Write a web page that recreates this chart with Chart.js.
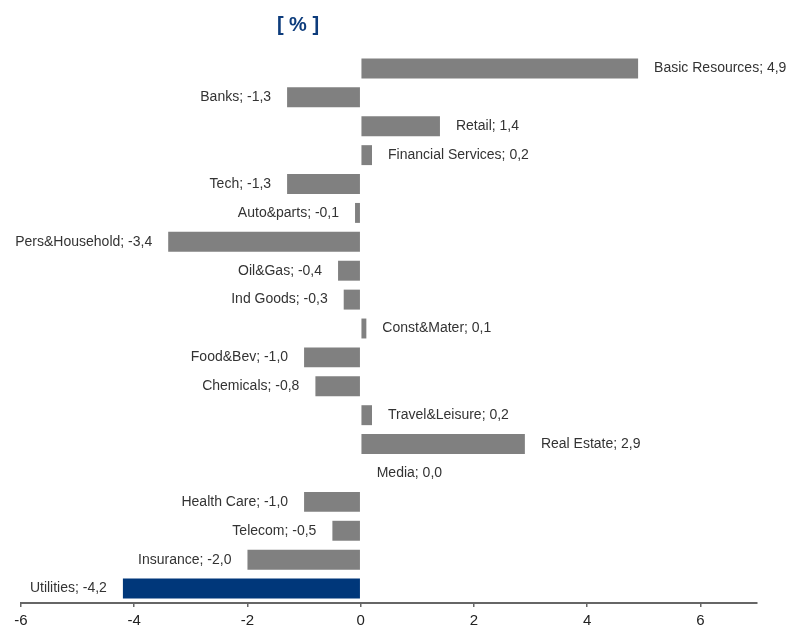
<!DOCTYPE html>
<html>
<head>
<meta charset="utf-8">
<script src="https://cdn.jsdelivr.net/npm/chart.js@4/dist/chart.umd.min.js"></script>
<style>
    html, body { margin: 0; padding: 0; background: #fff; }
    #sectorChart { display: block; }
</style>
</head>
<body>
<canvas id="sectorChart" width="789" height="628"></canvas>
<script>
const sectors = [
    'Basic Resources', 'Banks', 'Retail', 'Financial Services', 'Tech',
    'Auto&parts', 'Pers&Household', 'Oil&Gas', 'Ind Goods', 'Const&Mater',
    'Food&Bev', 'Chemicals', 'Travel&Leisure', 'Real Estate', 'Media',
    'Health Care', 'Telecom', 'Insurance', 'Utilities'
];

const changes = [
    4.9, -1.3, 1.4, 0.2, -1.3,
    -0.1, -3.4, -0.4, -0.3, 0.1,
    -1.0, -0.8, 0.2, 2.9, 0.0,
    -1.0, -0.5, -2.0, -4.2
];

const xTicks = [-6, -4, -2, 0, 2, 4, 6];

const highlighted = 'Utilities';
const grayColor = '#808080';
const blueColor = '#00377a';

function formatValue(v) {
    return v.toFixed(1).replace('.', ',');
}

// draws the title and the "name; value" label next to each bar
const barLabels = {
    id: 'barLabels',
    afterDatasetsDraw(chart) {
        const ctx = chart.ctx;
        const meta = chart.getDatasetMeta(0);
        const xScale = chart.scales.x;
        const zeroX = xScale.getPixelForValue(0);
        ctx.save();
        ctx.font = '14px "Liberation Sans", Arial, sans-serif';
        ctx.fillStyle = '#333333';
        ctx.textBaseline = 'middle';
        meta.data.forEach((bar, i) => {
            const v = changes[i];
            const text = sectors[i] + '; ' + formatValue(v);
            if (v >= 0) {
                ctx.textAlign = 'left';
                ctx.fillText(text, Math.max(bar.x, zeroX) + 16, bar.y);
            } else {
                ctx.textAlign = 'right';
                ctx.fillText(text, bar.x - 16, bar.y);
            }
        });

        ctx.font = 'bold 20px "Liberation Sans", Arial, sans-serif';
        ctx.fillStyle = '#0d3c7c';
        ctx.textAlign = 'center';
        ctx.fillText('[ % ]', 298, 25);
        ctx.restore();
    }
};

const ctx = document.getElementById('sectorChart').getContext('2d');
const sectorChart = new Chart(ctx, {
    type: 'bar',
    data: {
        labels: sectors,
        datasets: [{
            data: changes,
            backgroundColor: sectors.map(s => s === highlighted ? blueColor : grayColor),
            borderWidth: 0,
            barPercentage: 0.69,
            categoryPercentage: 1.0
        }]
    },
    options: {
        indexAxis: 'y',
        responsive: false,
        animation: false,
        layout: {
            padding: { top: 54, left: 21, right: 32, bottom: 0 }
        },
        plugins: {
            legend: { display: false },
            tooltip: { enabled: false },
            title: { display: false }
        },
        scales: {
            x: {
                min: -6,
                max: 7,
                afterBuildTicks: (scale) => {
                    scale.ticks = xTicks.map(v => ({ value: v }));
                },
                afterFit: (scale) => {
                    scale.height = 25;
                },
                ticks: {
                    padding: 5,
                    color: '#222222',
                    font: { family: '"Liberation Sans", Arial, sans-serif', size: 15 },
                    callback: (v) => String(v)
                },
                grid: {
                    drawOnChartArea: false,
                    drawTicks: true,
                    tickLength: 4,
                    color: '#666666',
                    lineWidth: 1.5
                },
                border: {
                    display: true,
                    color: '#666666',
                    width: 2
                }
            },
            y: {
                display: false
            }
        }
    },
    plugins: [barLabels]
});
</script>
</body>
</html>
